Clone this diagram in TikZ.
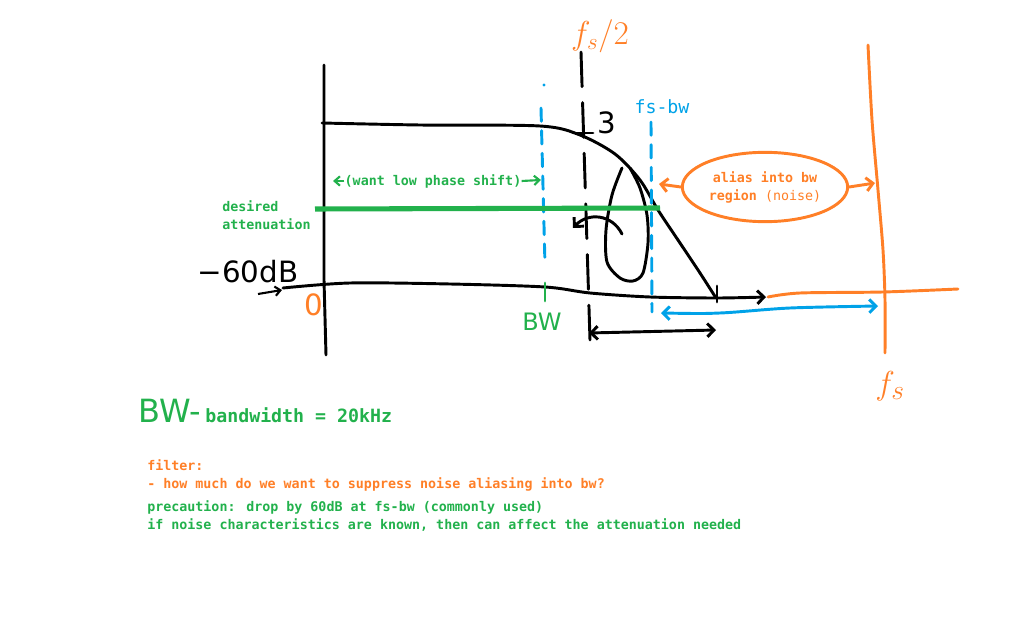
\documentclass[tikz,border=0pt]{standalone}
\usepackage{fontspec}
\setmainfont{DejaVu Sans}
\newfontfamily\notefont{DejaVu Sans Mono}
\usetikzlibrary{shapes, arrows.meta, positioning}
\definecolor{paintorange}{HTML}{FF7F27}
\definecolor{paintgreen}{HTML}{22B14C}
\definecolor{paintblue}{HTML}{00A2E8}

\begin{document}
\begin{tikzpicture}[x=0.75pt, y=-0.75pt]
\tikzstyle{pen} = [line width=2.2pt, line cap=round, line join=round]
\tikzstyle{arrow} = [pen,->,>={Straight Barb[length=5pt,width=10pt]}]
\tikzstyle{twoway} = [pen,<->,>={Straight Barb[length=5pt,width=10pt]}]
\tikzstyle{thinarrow} = [line width=1.6pt,->,>={Straight Barb[length=4pt,width=7pt]}]
\tikzstyle{dashline} = [pen, dash pattern=on 26pt off 12pt]
\tikzstyle{blueline} = [pen, paintblue, dash pattern=on 10pt off 7pt]
\tikzstyle{note} = [font=\notefont\bfseries\fontsize{10}{13.5}\selectfont, inner sep=0pt, align=left]
\tikzstyle{bignote} = [font=\notefont\bfseries\fontsize{13.7}{16}\selectfont, inner sep=0pt]
\tikzstyle{hand} = [font=\fontsize{22}{24}\selectfont, inner sep=0pt]

\useasboundingbox (0,0) rectangle (1026,624);

\node (sixty) [hand] at (248,272) {−60dB};
\node (zero) [hand, text=paintorange] at (314,305) {0};
\node (bw) [hand, text=paintgreen, font=\fontsize{18}{20}\selectfont] at (542,322) {BW};
\node (three) [hand] at (607,123) {3};
\node (halffs) [hand, text=paintorange, font=\fontsize{26}{28}\selectfont] at (600,36) {$f_s/2$};
\node (fs) [hand, text=paintorange, font=\fontsize{28}{30}\selectfont] at (890,386) {$f_s$};
\node (fsbw) [bignote, text=paintblue, font=\notefont\fontsize{13.7}{16}\selectfont] at (662,107) {fs-bw};
\node (desired) [note, text=paintgreen, anchor=west] at (222,215) {desired\\attenuation};
\node (phase) [note, text=paintgreen] at (433,181) {(want low phase shift)};
\node (alias) [ellipse, draw=paintorange, pen, minimum width=124pt, minimum height=52pt,
  note, text=paintorange, align=center] at (765,187) {alias into bw\\region {\mdseries(noise)}};
\node (bwhand) [hand, text=paintgreen, font=\fontsize{24}{26}\selectfont] at (170,411) {BW-};
\node (bandwidth) [bignote, text=paintgreen, anchor=base west] at (205,422) {bandwidth = 20kHz};
\node (filter) [note, text=paintorange, anchor=north west] at (147,459)
  {filter:\\- how much do we want to suppress noise aliasing into bw?};
\node (precaution) [note, text=paintgreen, anchor=north west] at (147,500)
  {precaution: drop by 60dB at fs-bw (commonly used)\\if noise characteristics are known, then can affect the attenuation needed};

\coordinate (passleft) at (333,181);
\coordinate (passright) at (541,180);
\coordinate (bwedge) at (659,184);
\coordinate (fsedge) at (875,183);
\coordinate (linestart) at (282,290);

\draw [pen] (324,65) -- (324,280) -- (326,355);
\draw [pen] plot[smooth] coordinates {(322,123) (420,125) (540,126) (580,135) (615,154)
  (640,180) (658,210) (680,243) (700,273) (716,298)};
\draw [pen] (717,286) -- (717,302);
\draw [arrow] plot[smooth] coordinates {(283,288) (350,283) (450,284) (545,287) (590,293)
  (650,297) (717,298) (766,297)};
\draw [pen] plot[smooth] coordinates {(622,168) (612,195) (606,230) (607,262) (620,278)
  (633,281) (643,273) (648,243) (647,215) (640,188) (630,168)};
\draw [arrow] (622,234) .. controls (612,214) and (588,212) .. (573,228);
\draw [dashline] (581,52) -- (590,340);
\draw [pen] (573,133) -- (593,133);
\draw [twoway] (589,333) -- (716,330);

\fill [paintblue] (544,85) circle (1.2pt);
\draw [blueline] (541,108) -- (545,265);
\draw [blueline] (651,122) -- (652,312);
\draw [twoway, paintblue] plot[smooth] coordinates {(661,313) (720,313) (790,308) (878,306)};

\draw [paintgreen, line width=3.8pt] (315,209) -- (660,208);
\draw [pen, paintgreen] (545,283) -- (545,301);
\draw [thinarrow, paintgreen] (phase.west) -- (passleft);
\draw [thinarrow, paintgreen] (phase.east) -- (passright);

\draw [pen, paintorange] plot[smooth] coordinates {(868,45) (872,120) (878,190) (883,250)
  (885,300) (885,353)};
\draw [pen, paintorange] plot[smooth] coordinates {(768,297) (800,293) (883,292) (958,289)};
\draw [arrow, paintorange] (alias.west) -- (bwedge);
\draw [arrow, paintorange] (alias.east) -- (fsedge);

\draw [thinarrow] (258,294) -- (linestart);
\end{tikzpicture}
\end{document}
